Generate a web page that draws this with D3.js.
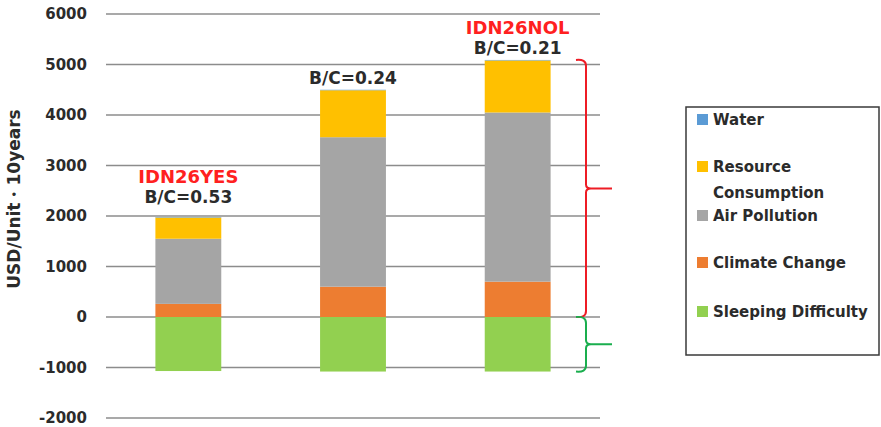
<!DOCTYPE html>
<html>
<head>
<meta charset="UTF-8">
<script src="https://cdn.jsdelivr.net/npm/d3@7"></script>
<style>
body {margin:0; background:#fff;}
text {font-family: "DejaVu Sans", sans-serif; font-weight: bold;}
</style>
</head>
<body>
<svg id="chart" width="881" height="427"></svg>
<script>
// data
var cases = ["IDN26YES", "IDN26MID", "IDN26NOL"];
var water = [10, 10, 10];
var resource = [420, 930, 1030];
var airPollution = [1290, 2960, 3350];
var climateChange = [260, 600, 700];
var sleeping = [-1070, -1080, -1080];
var bcLabels = ["B/C=0.53", "B/C=0.24", "B/C=0.21"];
var caseLabels = ["IDN26YES", "", "IDN26NOL"];
var yTicks = [-2000, -1000, 0, 1000, 2000, 3000, 4000, 5000, 6000];

var keys = ["Sleeping Difficulty", "Climate Change", "Air Pollution", "Resource Consumption", "Water"];
var colors = {"Water": "#5b9bd5", "Resource Consumption": "#ffc000", "Air Pollution": "#a5a5a5",
              "Climate Change": "#ed7d31", "Sleeping Difficulty": "#92d050"};

var rows = cases.map(function(c, i) {
    return {name: c, "Water": water[i], "Resource Consumption": resource[i], "Air Pollution": airPollution[i],
            "Climate Change": climateChange[i], "Sleeping Difficulty": sleeping[i]};
});

var svg = d3.select("#chart");
var x = d3.scaleBand().domain(cases).range([106, 600]).paddingInner(0.6).paddingOuter(0.3);
var y = d3.scaleLinear().domain([-2000, 6000]).range([418, 14]);

// gridlines
svg.append("g").selectAll("line").data(yTicks).enter().append("line")
    .attr("x1", 106).attr("x2", 600)
    .attr("y1", function(d) { return y(d); }).attr("y2", function(d) { return y(d); })
    .attr("stroke", "#8c8c8c").attr("stroke-width", 1.6);

var yAxis = svg.append("g").attr("transform", "translate(92,0)")
    .call(d3.axisLeft(y).tickValues(yTicks).tickSize(0).tickPadding(5).tickFormat(function(d) { return String(d); }));
yAxis.select(".domain").remove();
yAxis.selectAll("text").attr("font-size", 15).attr("fill", "#2b2b2b")
    .style("font-family", "DejaVu Sans").style("font-weight", "bold");

svg.append("text").attr("transform", "translate(20,199) rotate(-90)")
    .attr("text-anchor", "middle").attr("font-size", 17).attr("fill", "#2b2b2b")
    .text("USD/Unit・10years");

var series = d3.stack().keys(keys).offset(d3.stackOffsetDiverging)(rows);

svg.append("g").selectAll("g").data(series).enter().append("g")
    .attr("fill", function(d) { return colors[d.key]; })
    .selectAll("rect").data(function(d) { return d; }).enter().append("rect")
    .attr("x", function(d) { return x(d.data.name); })
    .attr("width", x.bandwidth())
    .attr("y", function(d) { return y(Math.max(d[0], d[1])); })
    .attr("height", function(d) { return Math.abs(y(d[0]) - y(d[1])); });

var totals = rows.map(function(r) { return r["Water"] + r["Resource Consumption"] + r["Air Pollution"] + r["Climate Change"]; });
var labelGap = [14, 6, 6];

svg.append("g").selectAll("text").data(bcLabels).enter().append("text")
    .attr("x", function(d, i) { return x(cases[i]) + x.bandwidth() / 2; })
    .attr("y", function(d, i) { return y(totals[i]) - labelGap[i]; })
    .attr("text-anchor", "middle").attr("font-size", 17).attr("fill", "#2b2b2b")
    .text(function(d) { return d; });

svg.append("g").selectAll("text").data(caseLabels).enter().append("text")
    .attr("x", function(d, i) { return x(cases[i]) + x.bandwidth() / 2; })
    .attr("y", function(d, i) { return y(totals[i]) - labelGap[i] - 20; })
    .attr("text-anchor", "middle").attr("font-size", 18).attr("fill", "#ff2020")
    .text(function(d) { return d; });

// braces for the last case
function brace(y0, y1, color) {
    var bx = 586, mid = (y0 + y1) / 2;
    var p = d3.path();
    p.moveTo(bx - 10, y0); p.quadraticCurveTo(bx, y0 - 1, bx, y0 + 6);
    p.lineTo(bx, mid - 4); p.quadraticCurveTo(bx, mid, bx + 5, mid);
    p.lineTo(bx + 26, mid);
    p.moveTo(bx + 5, mid); p.quadraticCurveTo(bx, mid, bx, mid + 4);
    p.lineTo(bx, y1 - 6); p.quadraticCurveTo(bx, y1 + 1, bx - 10, y1);
    svg.append("path").attr("d", p.toString()).attr("fill", "none")
        .attr("stroke", color).attr("stroke-width", 2);
}
brace(y(totals[2]), y(0), "#ee1c25");
brace(y(0), y(sleeping[2]), "#1aae4e");

// legend
var legend = svg.append("g");
legend.append("rect").attr("x", 686).attr("y", 107).attr("width", 193).attr("height", 248)
    .attr("fill", "#fff").attr("stroke", "#3a3a3a").attr("stroke-width", 1.5);
var legendItems = [
    {key: "Water", lines: ["Water"], y: 120},
    {key: "Resource Consumption", lines: ["Resource", "Consumption"], y: 167},
    {key: "Air Pollution", lines: ["Air Pollution"], y: 216},
    {key: "Climate Change", lines: ["Climate Change"], y: 263},
    {key: "Sleeping Difficulty", lines: ["Sleeping Difficulty"], y: 312}
];
var li = legend.selectAll("g.item").data(legendItems).enter().append("g");
li.append("rect").attr("x", 697).attr("y", function(d) { return d.y - 6; })
    .attr("width", 11).attr("height", 11).attr("fill", function(d) { return colors[d.key]; });
li.each(function(d) {
    var t = d3.select(this).append("text").attr("font-size", 15).attr("fill", "#2b2b2b");
    d.lines.forEach(function(l, k) {
        t.append("tspan").attr("x", 713).attr("y", d.y + 5 + k * 26).text(l);
    });
});
</script>
</body>
</html>
